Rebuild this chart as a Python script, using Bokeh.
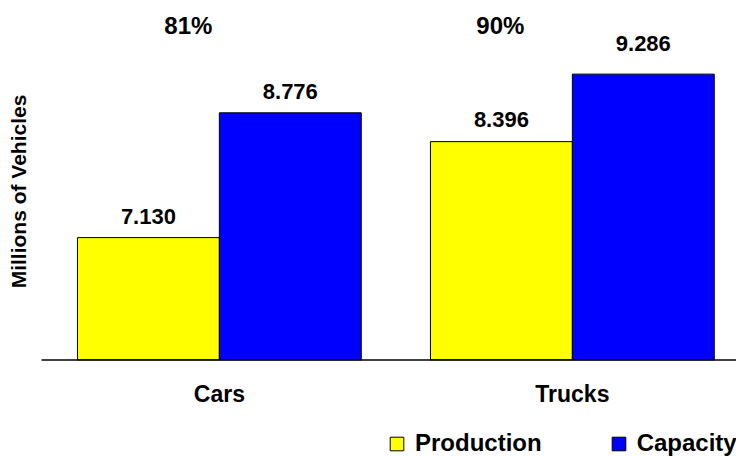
from bokeh.plotting import figure
from bokeh.models import ColumnDataSource, Range1d, Label, Legend, LegendItem
from bokeh.core.properties import value
from bokeh.embed import file_html
from bokeh.resources import INLINE

# ---- data ----
categories = ["Cars", "Trucks"]
production = [7.130, 8.396]
capacity = [8.776, 9.286]
series_names = ["Production", "Capacity"]
y_axis_title = "Millions of Vehicles"

# ---- style / layout ----
FONT = "Liberation Sans"
YEL = "#FFFF00"
BLU = "#0000FF"
bar_w = 0.402
y_base = 5.517          # value axis origin (baseline of the bars)
y_lo, y_hi = 4.230, 10.257
x_axis_start = -0.504   # left end of the category axis line
x_lo, x_hi = -0.620, 1.465

n = len(categories)
x_idx = list(range(n))
prod_x = [i - bar_w / 2 for i in x_idx]
cap_x = [i + bar_w / 2 for i in x_idx]

p = figure(width=736, height=457, output_backend="svg", toolbar_location=None,
           x_range=Range1d(x_lo, x_hi), y_range=Range1d(y_lo, y_hi),
           x_axis_location=None, y_axis_location=None,
           min_border_left=0, min_border_right=0, min_border_top=0,
           min_border_bottom=0)
p.outline_line_color = None
p.xgrid.visible = False
p.ygrid.visible = False
p.background_fill_color = "white"
p.border_fill_color = "white"

r_prod = p.vbar(x=prod_x, top=production, bottom=y_base, width=bar_w,
                fill_color=YEL, line_color="black", line_width=1)
r_cap = p.vbar(x=cap_x, top=capacity, bottom=y_base, width=bar_w,
               fill_color=BLU, line_color="black", line_width=1)

# category axis line
p.segment(x0=[x_axis_start], x1=[x_hi], y0=[y_base], y1=[y_base],
          line_color="black", line_width=1.5)

# category labels
p.text(x=x_idx, y=[y_base] * n, text=categories, y_offset=34,
       text_font=value(FONT), text_font_style="bold", text_font_size="23px",
       text_align="center", text_baseline="middle", text_color="black")

# value labels
vsrc = ColumnDataSource(dict(
    x=prod_x + cap_x,
    y=production + capacity,
    t=[f"{v:.3f}" for v in production + capacity],
    dy=[-21, -22, -21, -31],
))
p.text(x="x", y="y", text="t", y_offset="dy", source=vsrc,
       text_font=value(FONT), text_font_style="bold", text_font_size="22px",
       text_align="center", text_baseline="middle", text_color="black")

# percent labels (production / capacity)
psrc = ColumnDataSource(dict(
    x=x_idx,
    y=[y_hi] * n,
    t=[f"{round(a / b * 100)}%" for a, b in zip(production, capacity)],
    dx=[-31, -72],
))
p.text(x="x", y="y", text="t", x_offset="dx", y_offset=24.5, source=psrc,
       text_font=value(FONT), text_font_style="bold", text_font_size="24px",
       text_align="center", text_baseline="middle", text_color="black")

# value-axis title
p.add_layout(Label(x=18, y=266, x_units="screen", y_units="screen",
                   text=y_axis_title, angle=90, angle_units="deg",
                   text_align="center", text_baseline="middle",
                   text_font=FONT, text_font_style="bold",
                   text_font_size="21px", text_color="black"))

# legend
lg = Legend(items=[LegendItem(label=series_names[0], renderers=[r_prod]),
                   LegendItem(label=series_names[1], renderers=[r_cap])])
lg.orientation = "horizontal"
lg.location = (388, 0)
lg.padding = 0
lg.margin = 0
lg.spacing = 68
lg.border_line_color = None
lg.background_fill_alpha = 0
lg.glyph_width = 17
lg.glyph_height = 17
lg.label_standoff = 10
lg.label_text_font = FONT
lg.label_text_font_style = "bold"
lg.label_text_font_size = "24px"
lg.label_text_color = "black"
lg.label_text_baseline = "middle"
p.add_layout(lg, "center")

open("out.html", "w").write(file_html(p, INLINE))
